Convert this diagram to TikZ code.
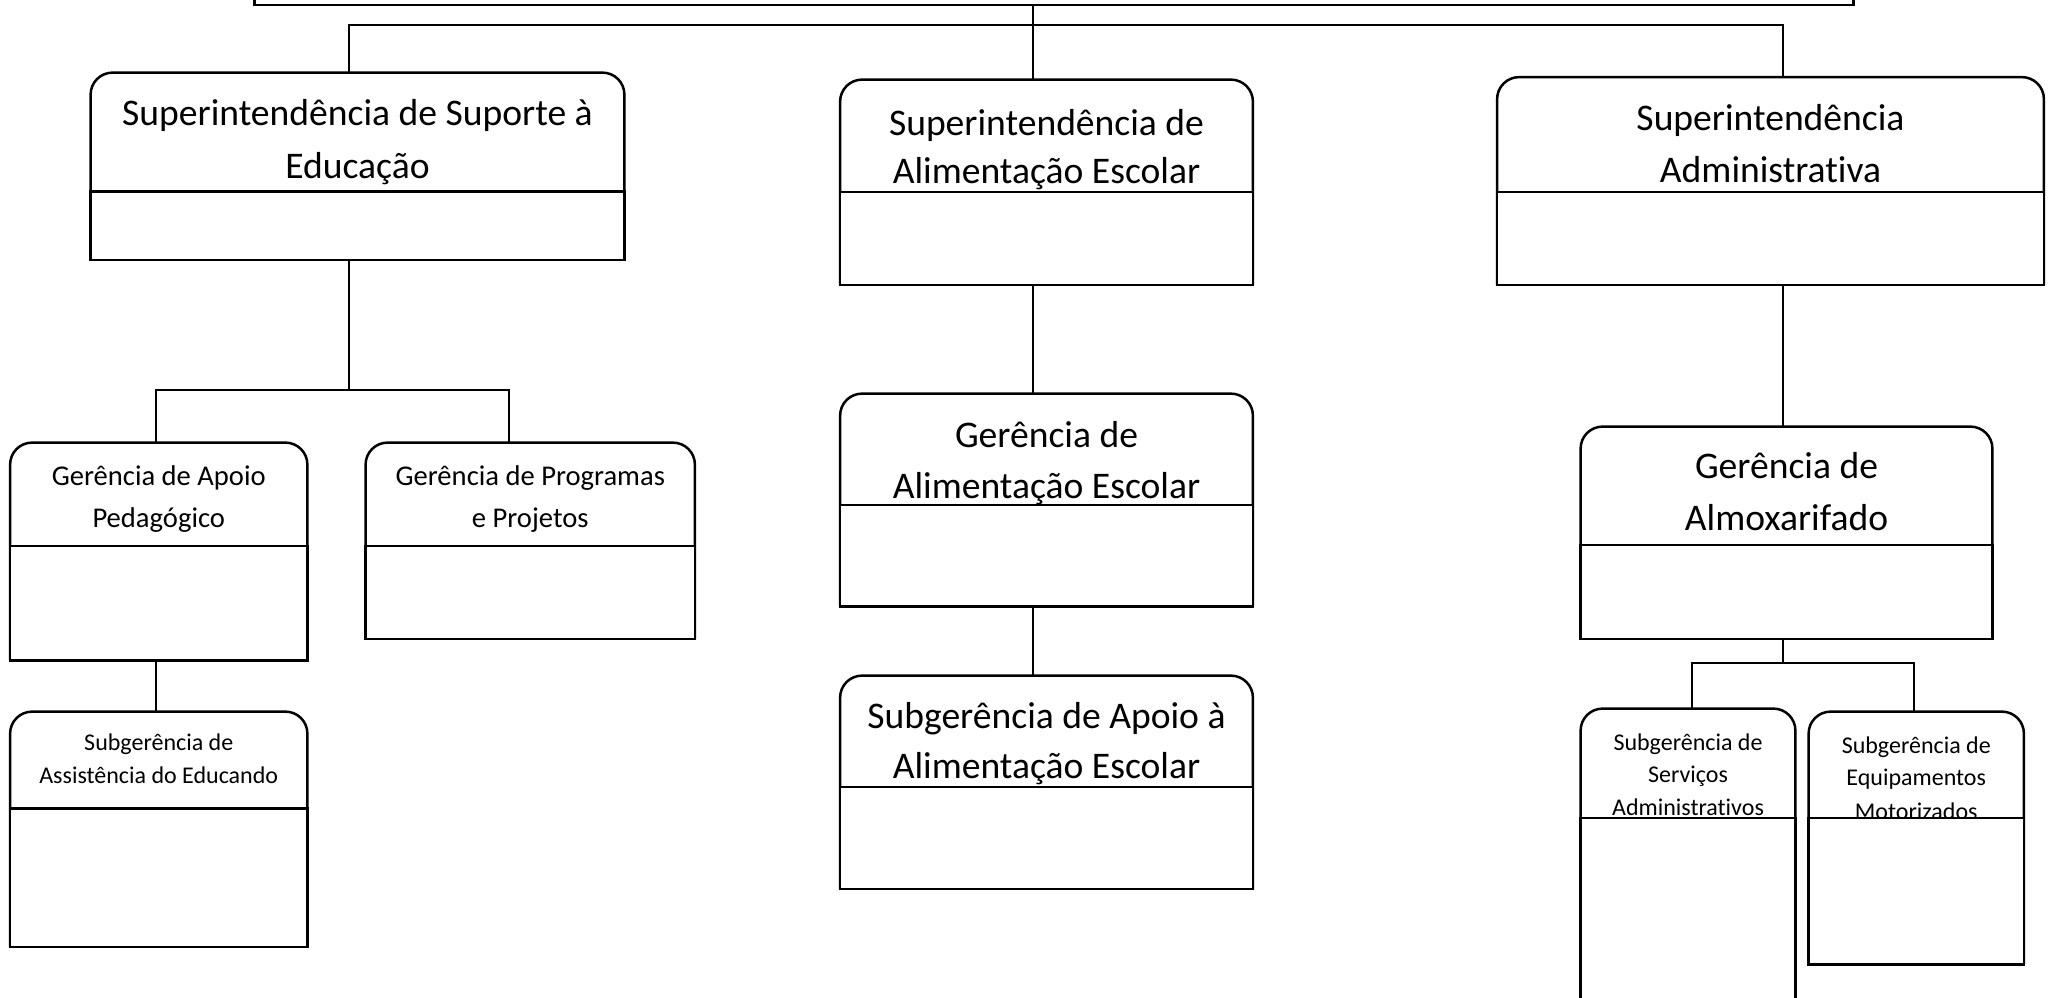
\documentclass[tikz,border=0pt]{standalone}
\usepackage{fontspec}
\setmainfont{Carlito}[Ligatures={NoCommon}]
\usetikzlibrary{fit}
\tikzset{
  boxline/.style={line width=1.25pt, rounded corners=11pt},
  lowline/.style={line width=1.25pt, fill=white},
  conn/.style={line width=1pt},
  frame/.style={inner sep=0pt, draw=none},
  bigtxt/.style={font=\fontsize{18.8}{22}\selectfont, anchor=base, inner sep=0pt},
  midtxt/.style={font=\fontsize{14.3}{17}\selectfont, anchor=base, inner sep=0pt},
  smalltxt/.style={font=\fontsize{12}{14}\selectfont, anchor=base, inner sep=0pt},
}
% name, x1, y1(top), x2, y divider, y2(bottom), text nodes
\newcommand\orgunit[7]{%
  \node[frame, fit={(#2,#3) (#4,#6)}] (#1) {};
  \draw[boxline] (#1.south west) -- (#1.north west) -- (#1.north east) -- (#1.south east);
  #7
  \draw[lowline] (#1.west |- 0,#5) rectangle (#1.south east);
}
\begin{document}
\begin{tikzpicture}[x=0.5pt,y=-0.5pt]
\useasboundingbox (0,0) rectangle (2051,997);
\clip (0,0) rectangle (2051,997);
\fill[white] (0,0) rectangle (2051,997);

% top box (only its lower part is visible)
\node[frame, fit={(255,-40) (1853,4.5)}] (top) {};
\draw[line width=1.3pt] (top.north west) rectangle (top.south east);

% connector coordinates
\coordinate (cA) at (1033,0);
\coordinate (bL) at (349,25);
\coordinate (bR) at (1783,25);
\coordinate (gb) at (349,390);
\coordinate (gL) at (155.5,390);
\coordinate (gR) at (509,390);
\coordinate (sb) at (1783,663);
\coordinate (sL) at (1692,663);
\coordinate (sR) at (1914,663);

% units
\orgunit{sup}{91}{73}{624}{191.5}{259.5}{%
  \node[bigtxt] (sup-a) at (sup.center |- 0,125) {Superintendência de Suporte à};
  \node[bigtxt] (sup-b) at (sup.center |- 0,178) {Educação};}
\orgunit{alim}{840.5}{80}{1252.5}{192}{284.5}{%
  \node[bigtxt] (alim-a) at (alim.center |- 0,135) {Superintendência de};
  \node[bigtxt] (alim-b) at (alim.center |- 0,183) {Alimentação Escolar};}
\orgunit{adm}{1497.5}{77.5}{2043.5}{192}{284.5}{%
  \node[bigtxt] (adm-a) at (adm.center |- 0,130) {Superintendência};
  \node[bigtxt] (adm-b) at (adm.center |- 0,182) {Administrativa};}
\orgunit{apoio}{10.5}{443}{307}{546}{660}{%
  \node[midtxt] (apoio-a) at (apoio.center |- 0,485) {Gerência de Apoio};
  \node[midtxt] (apoio-b) at (apoio.center |- 0,527) {Pedagógico};}
\orgunit{prog}{366}{443}{694.5}{546}{638.5}{%
  \node[midtxt] (prog-a) at (prog.center |- 0,485) {Gerência de Programas};
  \node[midtxt] (prog-b) at (prog.center |- 0,527) {e Projetos};}
\orgunit{assist}{10.5}{712}{307}{808.5}{946.5}{%
  \node[smalltxt] (assist-a) at (assist.center |- 0,750) {Subgerência de};
  \node[smalltxt] (assist-b) at (assist.center |- 0,783) {Assistência do Educando};}
\orgunit{geralim}{840.5}{394}{1252.5}{505}{606}{%
  \node[bigtxt] (geralim-a) at (geralim.center |- 0,447) {Gerência de};
  \node[bigtxt] (geralim-b) at (geralim.center |- 0,498) {Alimentação Escolar};}
\orgunit{subalim}{840.5}{676}{1252.5}{787}{888.5}{%
  \node[bigtxt] (subalim-a) at (subalim.center |- 0,728) {Subgerência de Apoio à};
  \node[bigtxt] (subalim-b) at (subalim.center |- 0,778) {Alimentação Escolar};}
\orgunit{almox}{1581}{427}{1992}{545}{638.5}{%
  \node[bigtxt] (almox-a) at (almox.center |- 0,478) {Gerência de};
  \node[bigtxt] (almox-b) at (almox.center |- 0,530) {Almoxarifado};}
\orgunit{serv}{1581}{709}{1795}{818}{1020}{%
  \node[smalltxt] (serv-a) at (serv.center |- 0,750) {Subgerência de};
  \node[smalltxt] (serv-b) at (serv.center |- 0,782.5) {Serviços};
  \node[smalltxt] (serv-c) at (serv.center |- 0,815) {Administrativos};}
\orgunit{equip}{1809}{712}{2023.5}{818}{964}{%
  \node[smalltxt] (equip-a) at (equip.center |- 0,753) {Subgerência de};
  \node[smalltxt] (equip-b) at (equip.center |- 0,785) {Equipamentos};
  \node[smalltxt] (equip-c) at (equip.center |- 0,819) {Motorizados};}

% connectors
\draw[conn] (top.south -| cA) -- (alim.north -| cA);
\draw[conn] (sup.north -| bL) -- (bL) -- (bR) -- (adm.north -| bR);
\draw[conn] (sup.south -| gb) -- (gb);
\draw[conn] (apoio.north -| gL) -- (gL) -- (gR) -- (prog.north -| gR);
\draw[conn] (apoio.south -| gL) -- (assist.north -| gL);
\draw[conn] (alim.south -| cA) -- (geralim.north -| cA);
\draw[conn] (geralim.south -| cA) -- (subalim.north -| cA);
\draw[conn] (adm.south -| bR) -- (almox.north -| bR);
\draw[conn] (almox.south -| sb) -- (sb);
\draw[conn] (serv.north -| sL) -- (sL) -- (sR) -- (equip.north -| sR);
\end{tikzpicture}
\end{document}
